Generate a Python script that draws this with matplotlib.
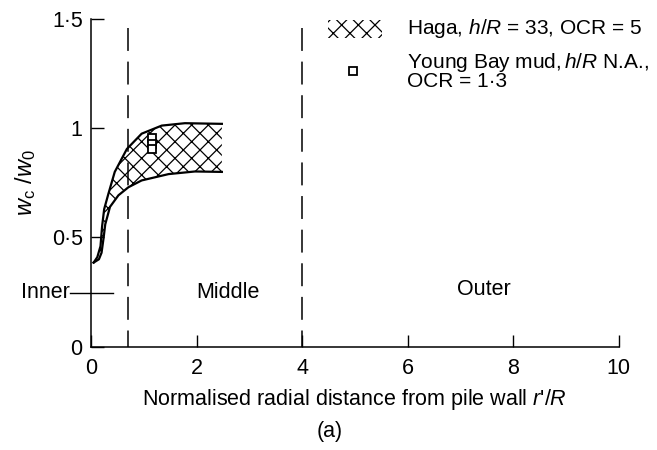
import matplotlib
matplotlib.use('Agg')
import matplotlib.pyplot as plt
from matplotlib.patches import Rectangle
from matplotlib.lines import Line2D

plt.rcParams['font.family'] = ['Liberation Sans', 'DejaVu Sans']
plt.rcParams['mathtext.fontset'] = 'custom'
plt.rcParams['mathtext.rm'] = 'Liberation Sans'
plt.rcParams['mathtext.it'] = 'Liberation Sans:italic'
plt.rcParams['hatch.linewidth'] = 0.9

# Haga band (upper and lower bounds)
upper_x = [0.05, 0.12, 0.18, 0.21, 0.25, 0.33, 0.45, 0.68, 0.96, 1.34, 1.78, 2.48]
upper_y = [0.385, 0.41, 0.46, 0.55, 0.63, 0.70, 0.80, 0.905, 0.975, 1.012, 1.023, 1.02]
lower_x = [0.05, 0.15, 0.20, 0.24, 0.27, 0.36, 0.52, 0.71, 0.96, 1.47, 1.97, 2.48]
lower_y = [0.385, 0.40, 0.43, 0.50, 0.56, 0.64, 0.693, 0.73, 0.761, 0.79, 0.802, 0.80]

# Young Bay mud points
ybm_x = [1.15, 1.15, 1.15]
ybm_y = [0.955, 0.93, 0.905]

zone_bounds = [0.7, 4]
xticks = [0, 2, 4, 6, 8, 10]
yticks = [0, 0.5, 1, 1.5]
ytick_labels = ['0', '0·5', '1', '1·5']

fs = 15.5
W, H = 657, 450

fig = plt.figure(figsize=(6.57, 4.5), dpi=100)
ax = fig.add_axes([0.1385, 0.2296, 0.8032, 0.7282])

# hatched band
poly_x = upper_x + lower_x[::-1]
poly_y = upper_y + lower_y[::-1]
ax.fill(poly_x, poly_y, facecolor='none', edgecolor='black', hatch='xx', linewidth=0)
ax.plot(upper_x, upper_y, color='black', lw=1.6)
ax.plot(lower_x, lower_y, color='black', lw=1.6)

ax.plot(ybm_x, ybm_y, 's', ms=6, mfc='white', mec='black', mew=1.3, ls='none')

for xb in zone_bounds:
    ax.plot([xb, xb], [1.46, 0], color='black', lw=1.1, dashes=(15, 7))

ax.set_xlim(0, 10)
ax.set_ylim(0, 1.5)
ax.set_xticks(xticks)
ax.set_yticks(yticks)
ax.set_yticklabels(ytick_labels)
ax.tick_params(direction='in', length=9, width=1, labelsize=fs)
ax.tick_params(axis='x', pad=8)
ax.tick_params(axis='y', pad=6)
for s in ['top', 'right']:
    ax.spines[s].set_visible(False)
for s in ['left', 'bottom']:
    ax.spines[s].set_linewidth(1.1)

ax.set_xlabel("Normalised radial distance from pile wall $r$'/$R$", fontsize=fs, labelpad=6)
ax.set_ylabel(r'$w_{\rm c}$ /$w_{0}$', fontsize=17, labelpad=10)

# zone labels
ax.text(2.6, 0.25, 'Middle', fontsize=fs, ha='center', va='center')
ax.text(7.44, 0.26, 'Outer', fontsize=fs, ha='center', va='center')
ax.text(-0.4, 0.247, 'Inner', fontsize=fs, ha='right', va='center')
ax.plot([-0.4, 0.41], [0.247, 0.247], color='black', lw=1.0, clip_on=False)

# legend, drawn by hand in figure pixels
fig.add_artist(Rectangle((328 / W, 1 - 38 / H), 54 / W, 18 / H, transform=fig.transFigure,
                         facecolor='none', edgecolor='black', hatch='xx', linewidth=0))
fig.add_artist(Line2D([353 / W], [1 - 71 / H], transform=fig.transFigure, marker='s', ms=6,
                      mfc='white', mec='black', mew=1.3, ls='none'))
fig.text(407 / W, 1 - 28 / H, 'Haga, $h$/$R$ = 33, OCR = 5', fontsize=15, ha='left', va='center')
fig.text(407 / W, 1 - 71 / H, 'Young Bay mud,$\\,h$/$R$ N.A.,\nOCR = 1·3', fontsize=15,
         ha='left', va='center', linespacing=0.85)

fig.text(0.502, 0.042, '(a)', fontsize=fs, ha='center', va='center')

fig.savefig('out.png', dpi=100)
